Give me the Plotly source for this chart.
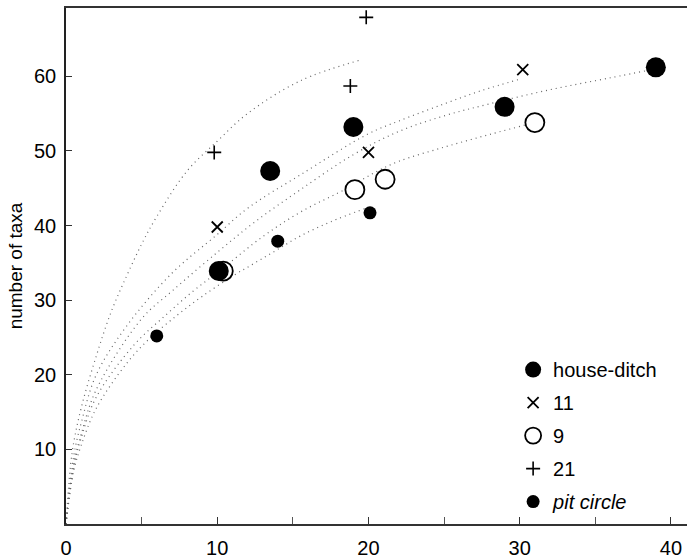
import plotly.graph_objects as go

# ---- series values ----
hd_x = [10.1, 13.5, 19.0, 29.0, 39.0]
hd_y = [33.9, 47.3, 53.2, 55.9, 61.2]

s11_x = [10.0, 20.0, 30.2]
s11_y = [39.8, 49.8, 60.9]

s9_x = [10.4, 19.1, 21.1, 31.0]
s9_y = [33.9, 44.8, 46.2, 53.8]

s21_x = [9.8, 18.8, 19.85]
s21_y = [49.8, 58.7, 67.9]

pit_x = [6.0, 14.0, 20.1]
pit_y = [25.2, 37.9, 41.7]

# ---- rarefaction curves ----
c21_x = [0, 0.4, 1, 2, 3, 4, 5, 6, 8, 10, 12, 15.5, 19.5]
c21_y = [0, 9.5, 15.5, 22.5, 28.5, 33.2, 37.5, 41.2, 47.3, 51.3, 55.0, 59.4, 62.2]

c11_x = [0, 0.5, 1, 2, 4, 7, 10, 12, 15.5, 20, 22, 25, 27.5, 30]
c11_y = [0, 9, 13.5, 20, 26.5, 33.6, 38.8, 42.3, 46.8, 52.3, 54.0, 56.3, 58.1, 59.6]

chd_x = [0, 0.5, 1, 2, 5, 7, 10, 12.5, 15.5, 19, 22, 25, 28, 32, 36, 39]
chd_y = [0, 8, 12, 18, 27.5, 31.2, 36.4, 40.5, 44.8, 49.5, 52.6, 54.7, 56.3, 58.2, 59.8, 61.0]

c9_x = [0, 0.5, 1, 2, 4.5, 6.6, 8.4, 10.2, 13, 15.5, 18.6, 20.5, 22, 25, 28, 31]
c9_y = [0, 7.5, 11.5, 17, 24, 28, 31.2, 34, 38.5, 41.8, 45, 47.2, 48.6, 50.5, 52.2, 53.8]

cpit_x = [0, 0.5, 1, 2, 4, 5.5, 7.3, 9, 11, 12.5, 14, 15.5, 17.5, 19.8]
cpit_y = [0, 7, 10.5, 15.5, 21.5, 24.8, 27.9, 30.5, 33.2, 35.0, 36.8, 38.6, 40.5, 42.3]

x_ticks = [0, 10, 20, 30, 40]
y_ticks = [10, 20, 30, 40, 50, 60]

FONT = "Liberation Sans, Arial, Helvetica, sans-serif"

fig = go.Figure()

for cx, cy in [(c21_x, c21_y), (c11_x, c11_y), (chd_x, chd_y), (c9_x, c9_y), (cpit_x, cpit_y)]:
    fig.add_trace(go.Scatter(x=cx, y=cy, mode="lines", showlegend=False, hoverinfo="skip",
                             line=dict(color="#666666", width=1.2, dash="1px,4px", shape="spline")))

fig.add_trace(go.Scatter(x=s9_x, y=s9_y, mode="markers", name="9", legendrank=3, legendgroup="c",
                         marker=dict(symbol="circle", size=19, color="white",
                                     line=dict(color="black", width=1.8))))
fig.add_trace(go.Scatter(x=s21_x, y=s21_y, mode="markers", name="21", legendrank=4, legendgroup="d",
                         marker=dict(symbol="cross-thin", size=10, color="black",
                                     line=dict(color="black", width=1.6))))
fig.add_trace(go.Scatter(x=s11_x, y=s11_y, mode="markers", name="11", legendrank=2, legendgroup="b",
                         marker=dict(symbol="x-thin", size=11, color="black",
                                     line=dict(color="black", width=1.8))))
fig.add_trace(go.Scatter(x=pit_x, y=pit_y, mode="markers", name="<i>pit circle</i>", legendrank=5,
                         legendgroup="e",
                         marker=dict(symbol="circle", size=13, color="black")))
fig.add_trace(go.Scatter(x=hd_x, y=hd_y, mode="markers", name="house-ditch", legendrank=1, legendgroup="a",
                         marker=dict(symbol="circle", size=20, color="black")))

fig.update_layout(
    width=687, height=559,
    margin=dict(l=66, r=0, t=8, b=29),
    paper_bgcolor="white", plot_bgcolor="white",
    font=dict(family=FONT, size=20, color="black"),
    showlegend=True,
    legend=dict(x=0.72, xanchor="left", y=0.337, yanchor="top",
                font=dict(family=FONT, size=20, color="black"),
                bgcolor="rgba(0,0,0,0)", tracegroupgap=4, traceorder="grouped"),
)

fig.update_xaxes(range=[0, 41.06], tickvals=x_ticks, ticks="inside", ticklen=7, tickwidth=1.3,
                 tickcolor="#333", showline=True, linecolor="#333", linewidth=1.5, mirror=True,
                 showgrid=False, zeroline=False, ticklabelstandoff=5,
                 minor=dict(dtick=5, tick0=0, ticks="inside", ticklen=7, tickcolor="#555", showgrid=False),
                 tickfont=dict(size=20))
fig.update_yaxes(range=[0, 69.15], tickvals=y_ticks, ticks="inside", ticklen=6, tickwidth=1.3,
                 tickcolor="#333", showline=True, linecolor="#222", linewidth=1.5, mirror=False,
                 showgrid=False, zeroline=False, ticklabelstandoff=4,
                 title=dict(text="number of taxa", font=dict(size=19), standoff=6),
                 tickfont=dict(size=20))

fig.write_html("out.html")
